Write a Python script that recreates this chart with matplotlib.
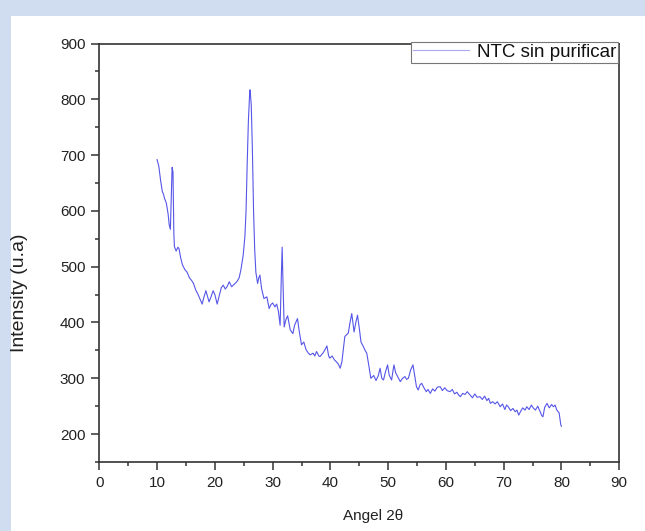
# Difractograma XRD: NTC sin purificar
import matplotlib.pyplot as plt
from matplotlib.patches import Rectangle
from matplotlib.ticker import MultipleLocator

plt.rcParams['font.family'] = ['Liberation Sans', 'DejaVu Sans']

angle = [10.0, 10.3, 10.6, 10.9, 11.1, 11.3, 11.6, 11.9, 12.1, 12.3, 12.5, 12.6, 12.75, 12.9,
         13.0, 13.3, 13.6, 13.8, 14.1, 14.4, 14.8, 15.2, 15.6, 16.0, 16.3, 16.7, 17.1, 17.5,
         17.8, 18.1, 18.45, 18.7, 19.0, 19.3, 19.7, 20.0, 20.4, 20.8, 21.1, 21.45, 21.8, 22.1,
         22.5, 22.9, 23.3, 23.8, 24.2, 24.5, 24.9, 25.2, 25.4, 25.6, 25.8, 26.0, 26.1, 26.3,
         26.5, 26.7, 26.9, 27.1, 27.4, 27.6, 27.8, 28.1, 28.5, 29.0, 29.4, 29.7, 30.0, 30.4,
         30.7, 31.0, 31.3, 31.5, 31.65, 31.8, 32.0, 32.3, 32.6, 33.05, 33.5, 33.8, 34.1, 34.3,
         34.6, 35.0, 35.4, 35.8, 36.2, 36.5, 37.0, 37.3, 37.6, 38.0, 38.2, 38.7, 39.0, 39.4,
         39.7, 39.9, 40.3, 40.7, 41.0, 41.4, 41.7, 42.0, 42.5, 43.1, 43.4, 43.7, 43.9, 44.1,
         44.4, 44.7, 45.0, 45.3, 45.7, 46.0, 46.3, 46.7, 47.0, 47.5, 47.9, 48.3, 48.6, 48.9,
         49.2, 49.5, 49.9, 50.2, 50.6, 51.0, 51.3, 51.7, 52.1, 52.5, 52.9, 53.2, 53.5, 53.9,
         54.3, 54.6, 54.9, 55.2, 55.5, 55.8, 56.2, 56.6, 56.9, 57.3, 57.7, 58.1, 58.5, 59.0,
         59.4, 59.8, 60.2, 60.7, 61.1, 61.5, 61.9, 62.2, 62.5, 62.9, 63.3, 63.7, 64.2, 64.6,
         65.0, 65.4, 65.9, 66.3, 66.7, 67.1, 67.4, 67.7, 68.1, 68.5, 68.9, 69.4, 69.8, 70.2,
         70.5, 70.8, 71.2, 71.6, 72.0, 72.3, 72.6, 72.9, 73.3, 73.7, 74.0, 74.4, 74.8, 75.1,
         75.5, 75.9, 76.3, 76.6, 76.8, 77.1, 77.5, 77.9, 78.3, 78.6, 78.9, 79.2, 79.6, 79.9,
         80.0]
intensity = [692, 680, 655, 635, 630, 622, 614, 595, 575, 567, 640, 678, 670, 560,
             536, 528, 535, 532, 515, 503, 495, 490, 480, 475, 470, 458, 450, 440,
             433, 445, 457, 448, 437, 445, 457, 450, 433, 450, 462, 467, 460, 464,
             473, 464, 468, 473, 480, 494, 520, 554, 600, 685, 760, 805, 817, 790,
             709, 600, 530, 490, 470, 480, 485, 460, 443, 446, 425, 432, 435, 428,
             433, 420, 395, 480, 535, 470, 392, 405, 412, 387, 380, 395, 402, 407,
             385, 360, 365, 351, 345, 342, 345, 340, 348, 340, 339, 345, 350, 358,
             340, 336, 340, 333, 330, 325, 318, 330, 375, 381, 400, 416, 400, 383,
             400, 413, 390, 365, 357, 350, 345, 320, 300, 305, 296, 305, 318, 300,
             297, 310, 324, 305, 297, 324, 310, 302, 294, 300, 303, 298, 300, 315,
             324, 305, 285, 279, 288, 291, 283, 276, 280, 273, 281, 277, 284, 285,
             278, 283, 278, 276, 280, 272, 275, 270, 267, 273, 271, 276, 270, 265,
             272, 266, 267, 262, 268, 260, 264, 255, 258, 254, 258, 249, 254, 244,
             252, 249, 242, 246, 240, 243, 234, 240, 247, 243, 249, 244, 252, 247,
             243, 250, 240, 233, 231, 248, 255, 247, 253, 249, 252, 243, 238, 216,
             214]

x_ticks = [0, 10, 20, 30, 40, 50, 60, 70, 80, 90]
y_ticks = [200, 300, 400, 500, 600, 700, 800, 900]

fig = plt.figure(figsize=(6.45, 5.31), dpi=100)
fig.patch.set_facecolor('#d0dcf0')
# panel blanco detras de los ejes
fig.patches.append(Rectangle((0.017, 0), 0.983, 0.97, transform=fig.transFigure,
                             facecolor='white', edgecolor='none', zorder=-5))

ax = fig.add_axes([0.154, 0.130, 0.806, 0.788])
ax.set_zorder(2)
ax.plot(angle, intensity, color='#5656e8', linewidth=0.8, label='NTC sin purificar')

ax.set_xlim(0, 90)
ax.set_ylim(150, 900)
ax.set_xticks(x_ticks)
ax.set_yticks(y_ticks)
ax.xaxis.set_minor_locator(MultipleLocator(5))
ax.yaxis.set_minor_locator(MultipleLocator(50))
ax.tick_params(which='major', direction='out', length=6, width=1.1, labelsize=11,
               colors='#333333', labelcolor='#222222', pad=4)
ax.tick_params(which='minor', direction='out', length=3, width=1.1, colors='#333333')
ax.tick_params(top=False, right=False)
for s in ax.spines.values():
    s.set_linewidth(1.2)
    s.set_color('#333333')

ax.set_xlabel('Angel 2θ', fontsize=11, color='#222222', va='center')
ax.set_ylabel('Intensity (u.a)', fontsize=14, color='#222222', va='center')
ax.xaxis.set_label_coords(0.526, -0.129)
ax.yaxis.set_label_coords(-0.153, 0.404)

leg = ax.legend(loc='upper right', bbox_to_anchor=(0.958, 0.921),
                bbox_transform=fig.transFigure, fontsize=13.5, fancybox=False,
                edgecolor='#777777', framealpha=1, borderpad=0.1, handlelength=3,
                handletextpad=0.4, borderaxespad=0)
leg.get_frame().set_linewidth(0.8)
leg.get_lines()[0].set_color('#a8a8f0')
for t in leg.get_texts():
    t.set_color('#111111')

fig.savefig('out.png', dpi=100, facecolor=fig.get_facecolor())
